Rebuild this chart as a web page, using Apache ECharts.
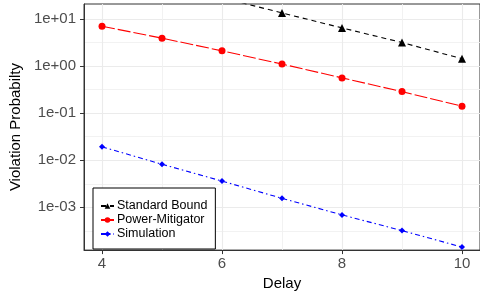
<!DOCTYPE html>
<html>
<head>
<meta charset="utf-8">
<script src="https://cdn.jsdelivr.net/npm/echarts@6/dist/echarts.min.js"></script>
<style>
  html, body { margin: 0; padding: 0; background: #fff; }
  #chart { width: 480px; height: 296px; }
</style>
</head>
<body>
<div id="chart"></div>
<script>
// Data
const delays = [4, 5, 6, 7, 8, 9, 10];
const standardBound = [124, 59, 28.2, 13.4, 6.45, 3.15, 1.43];
const powerMitigator = [7.0, 3.9, 2.1, 1.1, 0.56, 0.286, 0.14];
const simulation = [0.0192, 0.0082, 0.0036, 0.00155, 0.00069, 0.00032, 0.000143];

const xTicks = [4, 6, 8, 10];
const xMinorTicks = [5, 7, 9];
const yTicks = [0.001, 0.01, 0.1, 1, 10];
const yTickLabels = ['1e-03', '1e-02', '1e-01', '1e+00', '1e+01'];
const yMinorTicks = [0.000316, 0.00316, 0.0316, 0.316, 3.16];

const FONT = 'Liberation Sans, Arial, sans-serif';
const yMin = Math.pow(10, -3.909);
const yMax = Math.pow(10, 1.317);

function pairs(ys) {
    return delays.map((d, i) => [d, ys[i]]);
}

function yLabel(v) {
    const idx = yTicks.findIndex(t => Math.abs(Math.log10(t) - Math.log10(v)) < 1e-6);
    return idx >= 0 ? yTickLabels[idx] : '';
}

const chart = echarts.init(document.getElementById('chart'), null, { renderer: 'canvas' });

const option = {
    animation: false,
    backgroundColor: '#ffffff',
    grid: {
        left: 83, top: 4, width: 398, height: 247,
        show: true, borderColor: '#333333', borderWidth: 1, backgroundColor: 'transparent'
    },
    legend: {
        orient: 'vertical',
        left: 93, top: 188,
        padding: [11, 8, 8, 7],
        itemGap: 0,
        itemWidth: 13, itemHeight: 7,
        backgroundColor: '#ffffff',
        borderColor: '#000000', borderWidth: 1,
        textStyle: { fontFamily: FONT, fontSize: 12.5, color: '#000', lineHeight: 14, padding: [0, 0, 0, -2] },
        data: ['Standard Bound', 'Power-Mitigator', 'Simulation']
    },
    xAxis: [{
        type: 'value', min: 3.7, max: 10.3,
        name: 'Delay', nameLocation: 'middle', nameGap: 25,
        nameTextStyle: { fontFamily: FONT, fontSize: 15, color: '#000' },
        axisLine: { show: true, lineStyle: { color: '#333333', width: 1 } },
        axisTick: { show: true, length: 4, customValues: xTicks, lineStyle: { color: '#333333' } },
        axisLabel: { customValues: xTicks, margin: 6, fontFamily: FONT, fontSize: 15, color: '#4d4d4d' },
        splitLine: { show: true, lineStyle: { color: '#ebebeb', width: 1.1 } }
    }, {
        type: 'value', min: 3.7, max: 10.3, position: 'top',
        axisLine: { show: false },
        axisTick: { show: false, customValues: xMinorTicks },
        axisLabel: { show: false, customValues: xMinorTicks },
        splitLine: { show: true, lineStyle: { color: '#f0f0f0', width: 0.9 } }
    }],
    yAxis: [{
        type: 'log', logBase: 10, min: yMin, max: yMax,
        name: 'Violation Probabilty', nameLocation: 'middle', nameGap: 61,
        nameTextStyle: { fontFamily: FONT, fontSize: 15, color: '#000' },
        axisLine: { show: true, lineStyle: { color: '#333333', width: 1 } },
        axisTick: { show: true, length: 4, customValues: yTicks, lineStyle: { color: '#333333' } },
        axisLabel: { customValues: yTicks, margin: 8, fontFamily: FONT, fontSize: 15, color: '#4d4d4d', formatter: yLabel },
        splitLine: { show: true, lineStyle: { color: '#ebebeb', width: 1.1 } }
    }, {
        type: 'log', logBase: 10, min: yMin, max: yMax, position: 'right',
        axisLine: { show: false },
        axisTick: { show: false, customValues: yMinorTicks },
        axisLabel: { show: false, customValues: yMinorTicks },
        splitLine: { show: true, lineStyle: { color: '#f0f0f0', width: 0.9 } }
    }],
    series: [{
        name: 'Standard Bound', type: 'line', data: pairs(standardBound),
        color: '#000000',
        symbol: 'triangle', symbolSize: 8,
        lineStyle: { color: '#000000', width: 1.1, type: [5, 4] },
        itemStyle: { color: '#000000' }
    }, {
        name: 'Power-Mitigator', type: 'line', data: pairs(powerMitigator),
        color: '#ff0000',
        symbol: 'circle', symbolSize: 7,
        lineStyle: { color: '#ff0000', width: 1.1, type: [13, 3] },
        itemStyle: { color: '#ff0000' }
    }, {
        name: 'Simulation', type: 'line', data: pairs(simulation),
        color: '#0000ff',
        symbol: 'diamond', symbolSize: 6,
        lineStyle: { color: '#0000ff', width: 1.1, type: [5, 3, 1.5, 3] },
        itemStyle: { color: '#0000ff' }
    }]
};

chart.setOption(option);
</script>
</body>
</html>
